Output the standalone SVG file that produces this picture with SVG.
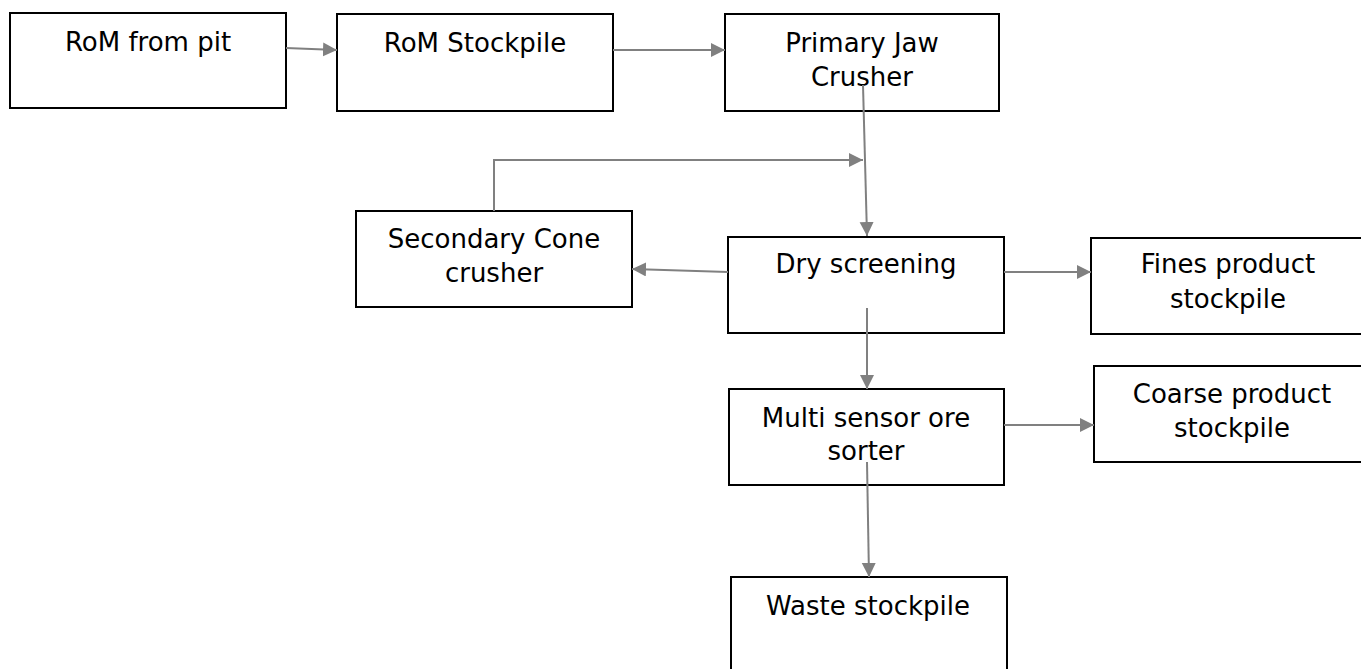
<svg xmlns="http://www.w3.org/2000/svg" width="1361" height="669" viewBox="0 0 1361 669">
<style>
.box{fill:#fff;stroke:#000;stroke-width:2}
.lbl{font-family:"DejaVu Sans",sans-serif;font-size:26px;fill:#000;text-anchor:middle}
.con{fill:none;stroke:#808080;stroke-width:2}
</style>
<defs>
<marker id="ah" markerWidth="15" markerHeight="15" refX="14" refY="7" orient="auto" markerUnits="userSpaceOnUse">
<path d="M0,0 L14,7 L0,14 Z" fill="#808080"/>
</marker>
</defs>
<rect width="1361" height="669" fill="#fff"/>
<g id="n-rom-pit"><rect class="box" x="10" y="13" width="276" height="95"/><text class="lbl" x="148" y="51">RoM from pit</text></g>
<g id="n-rom-stockpile"><rect class="box" x="337" y="14" width="276" height="97"/><text class="lbl" x="475" y="52">RoM Stockpile</text></g>
<g id="n-jaw"><rect class="box" x="725" y="14" width="274" height="97"/><text class="lbl" x="862" y="52">Primary Jaw</text><text class="lbl" x="862" y="86">Crusher</text></g>
<g id="n-cone"><rect class="box" x="356" y="211" width="276" height="96"/><text class="lbl" x="494" y="248">Secondary Cone</text><text class="lbl" x="494" y="282">crusher</text></g>
<g id="n-dry"><rect class="box" x="728" y="237" width="276" height="96"/><text class="lbl" x="866" y="273">Dry screening</text></g>
<g id="n-fines"><rect class="box" x="1091" y="238" width="280" height="96"/><text class="lbl" x="1228" y="273">Fines product</text><text class="lbl" x="1228" y="308">stockpile</text></g>
<g id="n-coarse"><rect class="box" x="1094" y="366" width="280" height="96"/><text class="lbl" x="1232" y="403">Coarse product</text><text class="lbl" x="1232" y="437">stockpile</text></g>
<g id="n-sorter"><rect class="box" x="729" y="389" width="275" height="96"/><text class="lbl" x="866" y="427">Multi sensor ore</text><text class="lbl" x="866" y="460">sorter</text></g>
<g id="n-waste"><rect class="box" x="731" y="577" width="276" height="110"/><text class="lbl" x="868" y="615">Waste stockpile</text></g>
<g id="connectors">
<line class="con" x1="286" y1="48" x2="337" y2="50" marker-end="url(#ah)"/>
<line class="con" x1="613" y1="50" x2="725" y2="50" marker-end="url(#ah)"/>
<line class="con" x1="863" y1="85" x2="867" y2="236" marker-end="url(#ah)"/>
<polyline class="con" points="494,211 494,160 863,160" marker-end="url(#ah)"/>
<line class="con" x1="728" y1="272" x2="632" y2="269" marker-end="url(#ah)"/>
<line class="con" x1="1004" y1="272" x2="1091" y2="272" marker-end="url(#ah)"/>
<line class="con" x1="867" y1="308" x2="867" y2="389" marker-end="url(#ah)"/>
<line class="con" x1="1004" y1="425" x2="1094" y2="425" marker-end="url(#ah)"/>
<line class="con" x1="867" y1="462" x2="869" y2="577" marker-end="url(#ah)"/>
</g>
</svg>
